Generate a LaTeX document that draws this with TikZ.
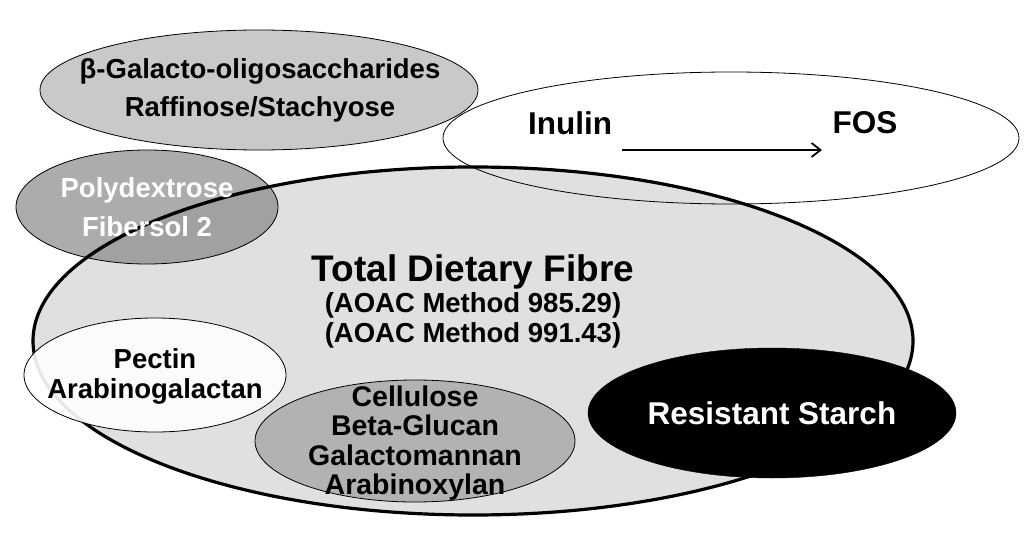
\documentclass[tikz,border=0pt]{standalone}
\usepackage{fontspec}
\setmainfont{Liberation Sans}
\usetikzlibrary{arrows.meta}
\definecolor{bigfill}{gray}{0.88}
\definecolor{galfill}{gray}{0.79}
\definecolor{polyfill}{gray}{0.50}
\definecolor{celfill}{gray}{0.70}
\tikzset{
  thinline/.style={draw=black, line width=0.8pt},
  lbl/.style={font=\bfseries\fontsize{27.5}{30}\selectfont, align=center, inner sep=0pt},
}
\begin{document}
\begin{tikzpicture}[x=1pt,y=-1pt]
\useasboundingbox (0,0) rectangle (1024,540);
\fill[white] (0,0) rectangle (1024,540);
% Total dietary fibre (big ellipse)
\path[fill=bigfill, draw=black, line width=3.2pt] (473,341) ellipse [x radius=440, y radius=174];
% Inulin / FOS ellipse (outline only)
\draw[thinline] (731,138) ellipse [x radius=288, y radius=66];
% Galacto-oligosaccharides
\path[fill=galfill, thinline] (259,90) ellipse [x radius=219, y radius=60];
% Polydextrose
\path[fill=polyfill, fill opacity=0.65, thinline] (147,207) ellipse [x radius=131, y radius=57];
\begin{scope}
  \clip (147,207) ellipse [x radius=131, y radius=57];
  \draw[black, line width=3.2pt] (473,341) ellipse [x radius=440, y radius=174];
\end{scope}
% Pectin
\path[fill=white, fill opacity=0.9, thinline] (155,375) ellipse [x radius=131, y radius=57];
% Cellulose
\path[fill=celfill, thinline] (415,441) ellipse [x radius=160, y radius=61];
% Resistant starch
\path[fill=black, draw=black] (772,413) ellipse [x radius=184, y radius=65];

% Texts
\node[lbl] (gal) at (260,90) {β-Galacto-oligosaccharides\\[8pt]Raffinose/Stachyose};
\node[lbl, font=\bfseries\fontsize{31.5}{34}\selectfont] (inulin) at (570,123) {Inulin};
\node[lbl, font=\bfseries\fontsize{31.5}{34}\selectfont] (fos) at (865,123) {FOS};
\coordinate (arrS) at (622,150);
\coordinate (arrE) at (822,150);
\draw[line width=2pt, -{Straight Barb[length=9pt,width=14pt,line width=1.8pt]}] (arrS) -- (arrE);
\node[lbl, text=white] (poly) at (147,207) {Polydextrose\\[9pt]Fibersol 2};
\node[lbl, font=\bfseries\fontsize{37}{40}\selectfont] (tdf) at (473,272) {Total Dietary Fibre};
\node[lbl] (aoac) at (473,320) {(AOAC Method 985.29)\\(AOAC Method 991.43)};
\node[lbl] (pectin) at (155,376) {Pectin\\Arabinogalactan};
\node[lbl, font=\bfseries\fontsize{28.5}{29.5}\selectfont] (cel) at (415,443) {Cellulose\\Beta-Glucan\\Galactomannan\\Arabinoxylan};
\node[lbl, text=white, font=\bfseries\fontsize{31.5}{33}\selectfont] (rs) at (772,413) {Resistant Starch};
\end{tikzpicture}
\end{document}
